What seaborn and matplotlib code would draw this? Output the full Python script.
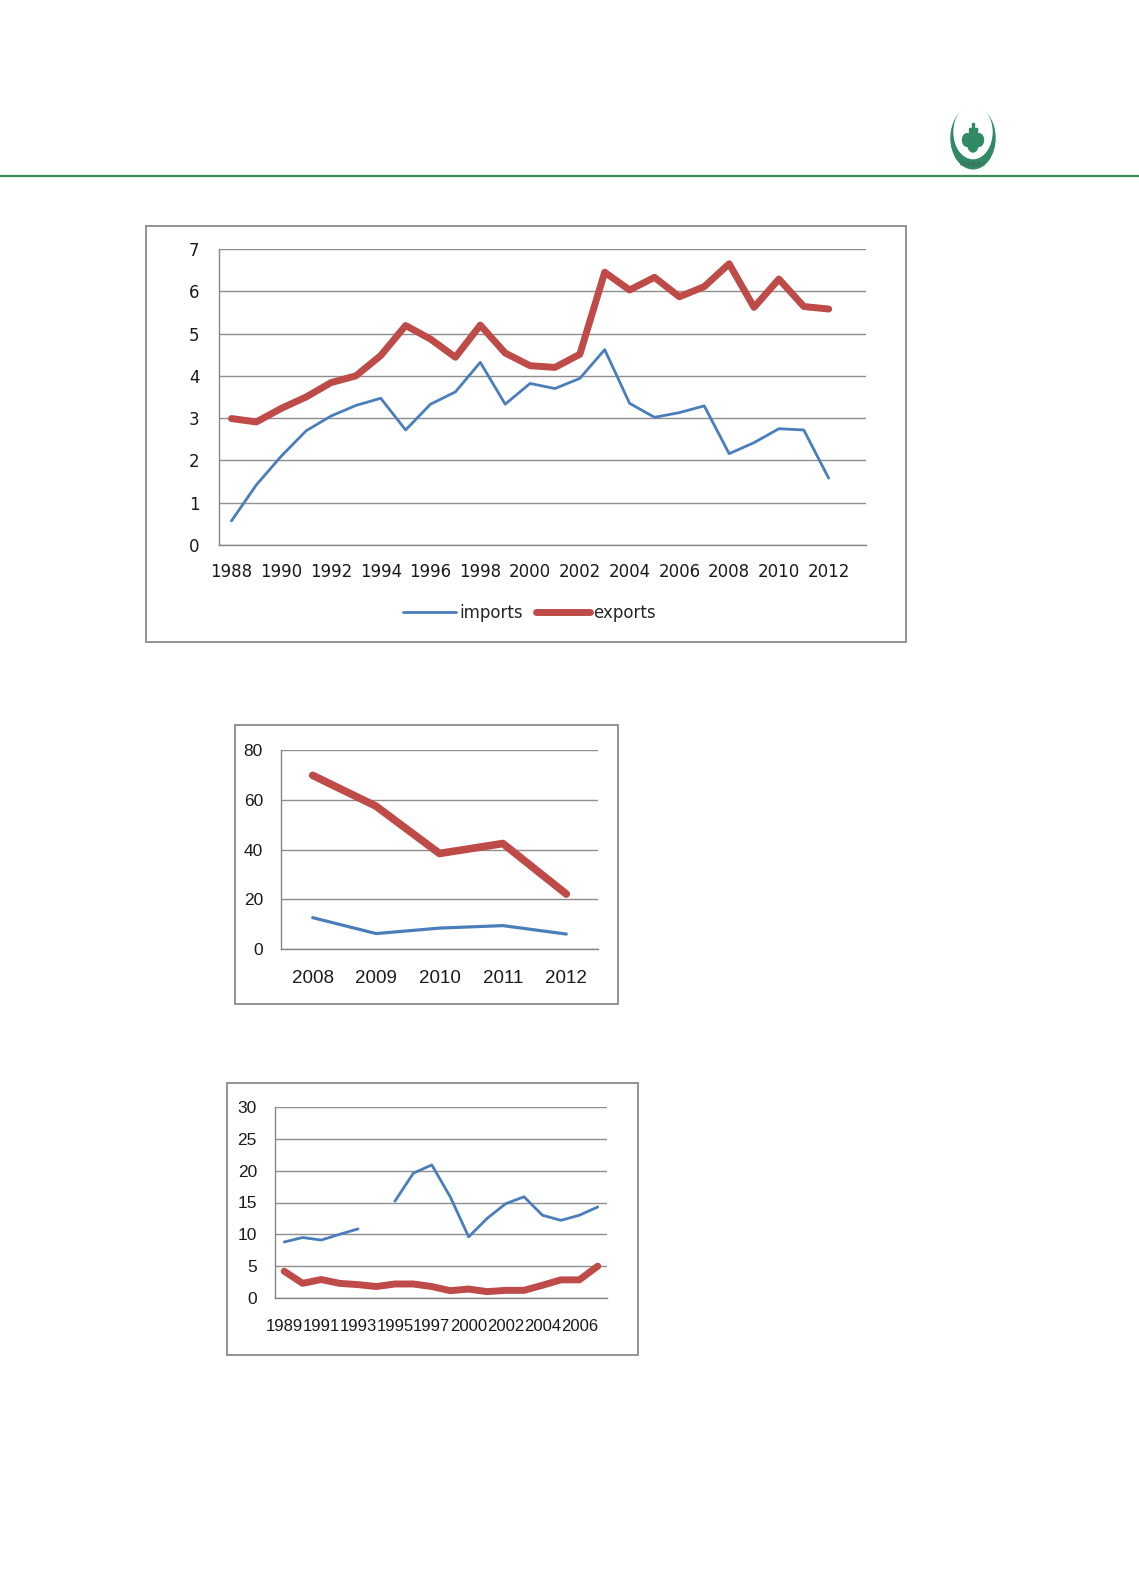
import numpy as np
import pandas as pd
import matplotlib
matplotlib.use("Agg")
import matplotlib.pyplot as plt
from matplotlib.patches import Rectangle, Circle
from matplotlib.lines import Line2D
import seaborn as sns

sns.set_style("white")
plt.rcParams['font.family'] = ['DejaVu Sans']

# ---------------- data ----------------
years1 = ['1988', '1989', '1990', '1991', '1992', '1993', '1994', '1995', '1996',
          '1997', '1998', '1999', '2000', '2001', '2002', '2003', '2004', '2005',
          '2006', '2007', '2008', '2009', '2010', '2011', '2012', '2013']
imports1 = [0.57, 1.42, 2.1, 2.7, 3.05, 3.3, 3.47, 2.72, 3.33, 3.62, 4.32, 3.33,
            3.82, 3.7, 3.94, 4.62, 3.35, 3.02, 3.13, 3.29, 2.16, 2.42, 2.75,
            2.72, 1.58, None]
exports1 = [2.99, 2.91, 3.23, 3.5, 3.84, 4.0, 4.48, 5.19, 4.87, 4.44, 5.2, 4.54,
            4.24, 4.2, 4.51, 6.45, 6.03, 6.33, 5.87, 6.11, 6.65, 5.62, 6.29,
            5.64, 5.58, None]

years2 = ['2008', '2009', '2010', '2011', '2012']
imports2 = [12.6, 6.2, 8.4, 9.4, 6.0]
exports2 = [69.8, 57.4, 38.4, 42.4, 22.1]

years3 = ['1989', '1990', '1991', '1992', '1993', '1994', '1995', '1996', '1997',
          '1999', '2000', '2001', '2002', '2003', '2004', '2005', '2006', '2007']
imports3 = [8.8, 9.5, 9.1, 10.0, 10.85, None, 15.2, 19.6, 20.9, 15.9, 9.6, 12.5,
            14.8, 15.9, 13.0, 12.2, 13.0, 14.3]
exports3 = [4.2, 2.3, 2.9, 2.3, 2.1, 1.8, 2.2, 2.2, 1.8, 1.15, 1.4, 1.0, 1.2,
            1.2, 2.0, 2.85, 2.85, 5.0]

BLUE = '#4a7ebb'
RED = '#be4b48'
GRID = '#8e8e8e'
GREEN = '#2f8a65'
W, H = 1139, 1595


def frame(df_years, imp, exp):
    rows = []
    seg = 0
    for i, (y, a, b) in enumerate(zip(df_years, imp, exp)):
        if a is None:
            seg += 1
        else:
            rows.append(dict(pos=i, value=a, series='imports', seg=seg))
        if b is not None:
            rows.append(dict(pos=i, value=b, series='exports', seg=0))
    return pd.DataFrame(rows)


def rect(l, t, r, b):
    return [l / W, 1 - b / H, (r - l) / W, (b - t) / H]


fig = plt.figure(figsize=(W / 100, H / 100), dpi=100)

# header rule + logo
fig.add_artist(Line2D([0, 1], [1 - 176 / H, 1 - 176 / H], color='#3b8a5c', lw=1.6))
lx, ly = 973 / W, 1 - 138 / H
fig.add_artist(Circle((lx, ly), 22 / W, transform=fig.transFigure, color=GREEN))
fig.add_artist(Circle((lx, ly + 6 / H), 19 / W, transform=fig.transFigure, color='white'))
# little tower emblem
fig.add_artist(Circle((lx - 6 / W, ly - 2 / H), 4.5 / W, transform=fig.transFigure, color=GREEN))
fig.add_artist(Circle((lx + 6 / W, ly - 2 / H), 4.5 / W, transform=fig.transFigure, color=GREEN))
fig.add_artist(Circle((lx, ly - 7 / H), 5 / W, transform=fig.transFigure, color=GREEN))
for dx, top in [(-3, 16), (0, 21), (3, 16)]:
    fig.add_artist(Rectangle((lx + (dx - 1) / W, ly - 6 / H), 2 / W, top / H,
                             transform=fig.transFigure, color=GREEN))
fig.text(lx, 1 - 164 / H, 'COMCEC', fontsize=4.5, color='#555555', ha='center', va='center',
         family=['Liberation Serif', 'DejaVu Serif'])


def box(l, t, r, b):
    fig.add_artist(Rectangle((l / W, 1 - b / H), (r - l) / W, (b - t) / H,
                             transform=fig.transFigure, facecolor='white',
                             edgecolor='#8a8a8a', lw=1.3, zorder=0))


def style_axes(ax, n, ymax, ystep, label_every, xfs, yfs, family, xpad, ypad):
    ax.set_xlim(-0.5, n - 0.5)
    ax.set_ylim(0, ymax)
    ax.set_yticks(np.arange(0, ymax + ystep / 2, ystep))
    ax.yaxis.grid(True, color=GRID, lw=1)
    ax.set_axisbelow(True)
    for s in ['top', 'right']:
        ax.spines[s].set_visible(False)
    for s in ['left', 'bottom']:
        ax.spines[s].set_color('#868686')
        ax.spines[s].set_linewidth(1)
    ax.set_xticks(np.arange(-0.5, n, 1.0), minor=True)
    ax.tick_params(axis='x', which='minor', length=6, color='#868686', direction='out')
    ax.tick_params(axis='x', which='major', length=0, pad=xpad, labelsize=xfs)
    ax.tick_params(axis='y', length=5, color='#868686', direction='out', labelsize=yfs, pad=ypad)
    for lab in ax.get_xticklabels() + ax.get_yticklabels():
        lab.set_family(family)
        lab.set_color('#1a1a1a')
    ax.set_xlabel('')
    ax.set_ylabel('')


def draw(ax, df, lw_imp, lw_exp):
    sns.lineplot(data=df[df.series == 'imports'], x='pos', y='value', units='seg',
                 estimator=None, color=BLUE, lw=lw_imp, ax=ax, legend=False)
    sns.lineplot(data=df[df.series == 'exports'], x='pos', y='value',
                 estimator=None, color=RED, lw=lw_exp, ax=ax, legend=False,
                 solid_capstyle='round', solid_joinstyle='round')


# ---------------- chart 1 ----------------
box(146, 226, 906, 642)
ax1 = fig.add_axes(rect(219, 249, 866, 545))
draw(ax1, frame(years1, imports1, exports1), 2.0, 5.0)
ax1.set_xticks(np.arange(0, len(years1), 2))
ax1.set_xticklabels(years1[::2])
style_axes(ax1, len(years1), 7, 1, 2, 12, 12, ['DejaVu Sans'], 13, 9)
handles = [Line2D([], [], color=BLUE, lw=2.0), Line2D([], [], color=RED, lw=5.0)]
fig.legend(handles, ['imports', 'exports'], loc='center', bbox_to_anchor=(529 / W, 1 - 613 / H),
           ncol=2, frameon=False, handlelength=3.2, handletextpad=0.2, columnspacing=0.8,
           prop={'family': 'DejaVu Sans', 'size': 12})

# ---------------- chart 2 ----------------
SANS = ['Liberation Sans', 'DejaVu Sans']
box(235, 725, 618, 1004)
ax2 = fig.add_axes(rect(281, 750, 598, 949))
draw(ax2, frame(years2, imports2, exports2), 2.3, 5.5)
ax2.set_xticks(np.arange(0, len(years2), 1))
ax2.set_xticklabels(years2)
style_axes(ax2, len(years2), 80, 20, 1, 13.5, 12.5, SANS, 15, 8)

# ---------------- chart 3 ----------------
box(227, 1083, 638, 1355)
ax3 = fig.add_axes(rect(275, 1107, 607, 1298))
draw(ax3, frame(years3, imports3, exports3), 2.0, 5.0)
ax3.set_xticks(np.arange(0, len(years3), 2))
ax3.set_xticklabels(years3[::2])
style_axes(ax3, len(years3), 30, 5, 2, 12, 12.5, SANS, 15, 8)

fig.savefig('out.png', dpi=100, facecolor='white')
